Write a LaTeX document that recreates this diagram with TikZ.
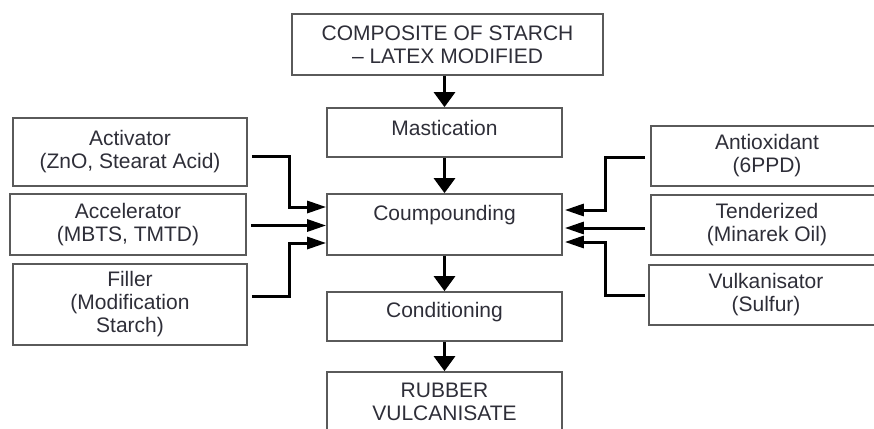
\documentclass[tikz,border=0pt]{standalone}
\usepackage{fontspec}
\setmainfont{Liberation Sans}
\usetikzlibrary{arrows.meta,calc}
\definecolor{boxline}{HTML}{5A5A5A}
\definecolor{txt}{HTML}{2E2E38}
\begin{document}
\begin{tikzpicture}[x=1pt,y=-1pt,
  box/.style={draw=boxline,line width=1.7pt,rectangle,inner sep=0pt,
    text=txt,align=center,font=\fontsize{21}{23}\selectfont},
  lbl/.style={text=txt,align=center,inner sep=0pt,font=\fontsize{21}{23}\selectfont},
  varrow/.style={line width=3pt,-{Triangle[length=15pt,width=21pt]}},
  harrow/.style={line width=3pt,-{Triangle[length=19pt,width=12pt]}}]
\useasboundingbox (0,0) rectangle (874,428);
\begin{scope}
\clip (0,0) rectangle (874,428);
% centre column
\node[box,minimum width=311pt,minimum height=61pt] (top) at (447.5,44.5)
  {COMPOSITE OF STARCH\\ -- LATEX MODIFIED};
\node[box,minimum width=235pt,minimum height=49pt] (mast) at (444.5,132.5) {};
\node[lbl] (mastt) at (444.5,128) {Mastication};
\node[box,minimum width=235pt,minimum height=61pt] (comp) at (444.5,224.5) {};
\node[lbl] (compt) at (444.5,215) {Coumpounding};
\node[box,minimum width=235pt,minimum height=49pt] (cond) at (444.5,316.5) {};
\node[lbl] (condt) at (444.5,312) {Conditioning};
\node[box,minimum width=235pt,minimum height=68pt] (rub) at (444.5,406) {};
\node[lbl] (rubt) at (444.5,402) {RUBBER\\VULCANISATE};
% left column
\node[box,minimum width=234pt,minimum height=68pt] (act) at (130,152)
  {Activator\\(ZnO, Stearat Acid)};
\node[box,minimum width=236pt,minimum height=61pt] (acc) at (128,224.5)
  {Accelerator\\(MBTS, TMTD)};
\node[box,minimum width=234pt,minimum height=81pt] (fil) at (130,304.5)
  {Filler\\(Modification\\Starch)};
% right column
\node[box,minimum width=232pt,minimum height=60pt] (anti) at (767,156)
  {Antioxidant\\(6PPD)};
\node[box,minimum width=232pt,minimum height=60pt] (tend) at (767,225)
  {Tenderized\\(Minarek Oil)};
\node[box,minimum width=234pt,minimum height=60pt] (vulk) at (766,295)
  {Vulkanisator\\(Sulfur)};
\end{scope}
% vertical arrows
\draw[varrow] (mast.north |- top.south) -- (mast.north);
\draw[varrow] (mast.south) -- (comp.north);
\draw[varrow] (comp.south) -- (cond.north);
\draw[varrow] (cond.south) -- (rub.north);
% left arrows
\draw[harrow] ($(act.east)+(4,4)$) -| ($(comp.west)+(-37,-17.5)$) -- ($(comp.west)+(0,-17.5)$);
\draw[harrow] ($(acc.east)+(4,1)$) -- ($(comp.west)+(0,1)$);
\draw[harrow] ($(fil.east)+(4,-8.5)$) -| ($(comp.west)+(-37,18.5)$) -- ($(comp.west)+(0,18.5)$);
% right arrows
\draw[harrow] ($(anti.west)+(-5,1)$) -| ($(comp.east)+(43,-14.5)$) -- ($(comp.east)+(2,-14.5)$);
\draw[harrow] ($(tend.west)+(-5,3)$) -- ($(comp.east)+(2,3.5)$);
\draw[harrow] ($(vulk.west)+(-3,0)$) -| ($(comp.east)+(43,17.5)$) -- ($(comp.east)+(2,17.5)$);
\end{tikzpicture}
\end{document}
